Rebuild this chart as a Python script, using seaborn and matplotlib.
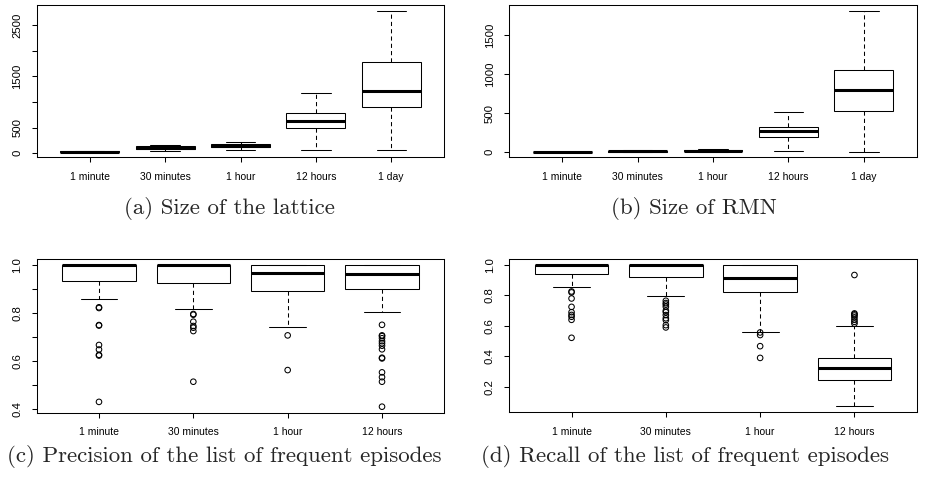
import pandas as pd
import seaborn as sns
import matplotlib.pyplot as plt

windows_day = ['1 minute', '30 minutes', '1 hour', '12 hours', '1 day']
windows_hour = ['1 minute', '30 minutes', '1 hour', '12 hours']

# box summaries: lower whisker, q1, median, q3, upper whisker
lattice_box = [
    [20, 28, 32, 36, 42],
    [45, 80, 100, 130, 160],
    [70, 115, 145, 175, 225],
    [65, 490, 624, 775, 1180],
    [64, 909, 1215, 1775, 2780],
]
rmn_box = [
    [1, 2, 3, 4, 6],
    [3, 7, 12, 17, 25],
    [5, 12, 20, 28, 40],
    [10, 190, 272, 325, 515],
    [8, 526, 799, 1051, 1815],
]
precision_box = [
    [0.858, 0.933, 1.0, 1.0, 1.0],
    [0.817, 0.925, 1.0, 1.0, 1.0],
    [0.742, 0.893, 0.965, 1.0, 1.0],
    [0.803, 0.901, 0.964, 1.0, 1.0],
]
recall_box = [
    [0.855, 0.939, 1.0, 1.0, 1.0],
    [0.798, 0.918, 1.0, 1.0, 1.0],
    [0.562, 0.820, 0.912, 1.0, 1.0],
    [0.073, 0.244, 0.321, 0.388, 0.601],
]

precision_out = [
    [0.824, 0.821, 0.75, 0.748, 0.667, 0.648, 0.626, 0.623, 0.43],
    [0.796, 0.793, 0.764, 0.746, 0.739, 0.725, 0.514],
    [0.707, 0.5625],
    [0.751, 0.707, 0.704, 0.695, 0.683, 0.674, 0.664, 0.649, 0.614, 0.611,
     0.553, 0.533, 0.514, 0.41],
]
recall_out = [
    [0.826, 0.82, 0.78, 0.725, 0.69, 0.672, 0.66, 0.64, 0.522],
    [0.765, 0.75, 0.74, 0.726, 0.70, 0.69, 0.671, 0.65, 0.638, 0.605, 0.59],
    [0.557, 0.54, 0.467, 0.39],
    [0.934, 0.682, 0.676, 0.668, 0.656, 0.64, 0.627, 0.615],
]

sns.set_style('ticks')
plt.rcParams['font.family'] = ['Liberation Sans', 'DejaVu Sans']


def long_frame(cats, groups):
    rows = [(c, v) for c, vals in zip(cats, groups) for v in vals]
    return pd.DataFrame(rows, columns=['window', 'value'])


def draw_panel(ax, cats, box, outliers, ylim, yticks, ylabels):
    df = long_frame(cats, box)
    sns.boxplot(data=df, x='window', y='value', order=cats, ax=ax,
                color='white', linecolor='black', saturation=1,
                linewidth=0.75, width=0.78, whis=1.5, showfliers=False,
                medianprops=dict(linewidth=2.2),
                whiskerprops=dict(linestyle=(0, (4, 3))))
    if outliers is not None:
        out = long_frame(cats, outliers)
        n = len(ax.collections)
        sns.stripplot(data=out, x='window', y='value', order=cats, ax=ax,
                      jitter=False, color='black', edgecolor='black',
                      linewidth=0.75, size=4.0, zorder=3)
        for coll in ax.collections[n:]:
            coll.set_facecolor('none')
    ax.set_xlim(-0.7 + (5 - len(cats)) * 0.04, len(cats) - 1 + 0.7 - (5 - len(cats)) * 0.04)
    ax.set_ylim(*ylim)
    ax.set_yticks(yticks)
    ax.set_yticklabels(ylabels, rotation=90, va='center')
    ax.set_xlabel('')
    ax.set_ylabel('')
    ax.tick_params(direction='out', length=3.5, width=0.75, labelsize=7.5,
                   color='black', labelcolor='black')
    ax.tick_params(axis='x', pad=7)
    ax.tick_params(axis='y', pad=7, labelsize=8.2)
    for s in ax.spines.values():
        s.set_visible(True)
        s.set_linewidth(0.75)
        s.set_color('black')


fig = plt.figure(figsize=(9.25, 4.82), dpi=100)
ax_a = fig.add_axes([0.0400, 0.6743, 0.4400, 0.3154])
ax_b = fig.add_axes([0.5506, 0.6736, 0.4404, 0.3160])
ax_c = fig.add_axes([0.0397, 0.1438, 0.4406, 0.3183])
ax_d = fig.add_axes([0.5506, 0.1446, 0.4404, 0.3174])

draw_panel(ax_a, windows_day, lattice_box, None, (-75, 2890),
           [0, 500, 1000, 1500, 2000, 2500],
           ['0', '500', '', '1500', '', '2500'])
draw_panel(ax_b, windows_day, rmn_box, None, (-65, 1888),
           [0, 500, 1000, 1500], ['0', '500', '1000', '1500'])
draw_panel(ax_c, windows_hour, precision_box, precision_out, (0.385, 1.024),
           [0.4, 0.5, 0.6, 0.7, 0.8, 0.9, 1.0],
           ['0.4', '', '0.6', '', '0.8', '', '1.0'])
draw_panel(ax_d, windows_hour, recall_box, recall_out, (0.033, 1.037),
           [0.2, 0.4, 0.6, 0.8, 1.0], ['0.2', '0.4', '0.6', '0.8', '1.0'])

# captions are centred on each sub-figure (plot plus its left margin)
captions = ['(a) Size of the lattice', '(b) Size of RMN',
            '(c) Precision of the list of frequent episodes',
            '(d) Recall of the list of frequent episodes']
for cap, x, y in zip(captions, [0.2476, 0.750, 0.242, 0.741],
                     [0.567, 0.567, 0.052, 0.052]):
    fig.text(x, y, cap, family='cmr10', fontsize=16.5, ha='center', va='center')

fig.savefig('out.png', dpi=100)
